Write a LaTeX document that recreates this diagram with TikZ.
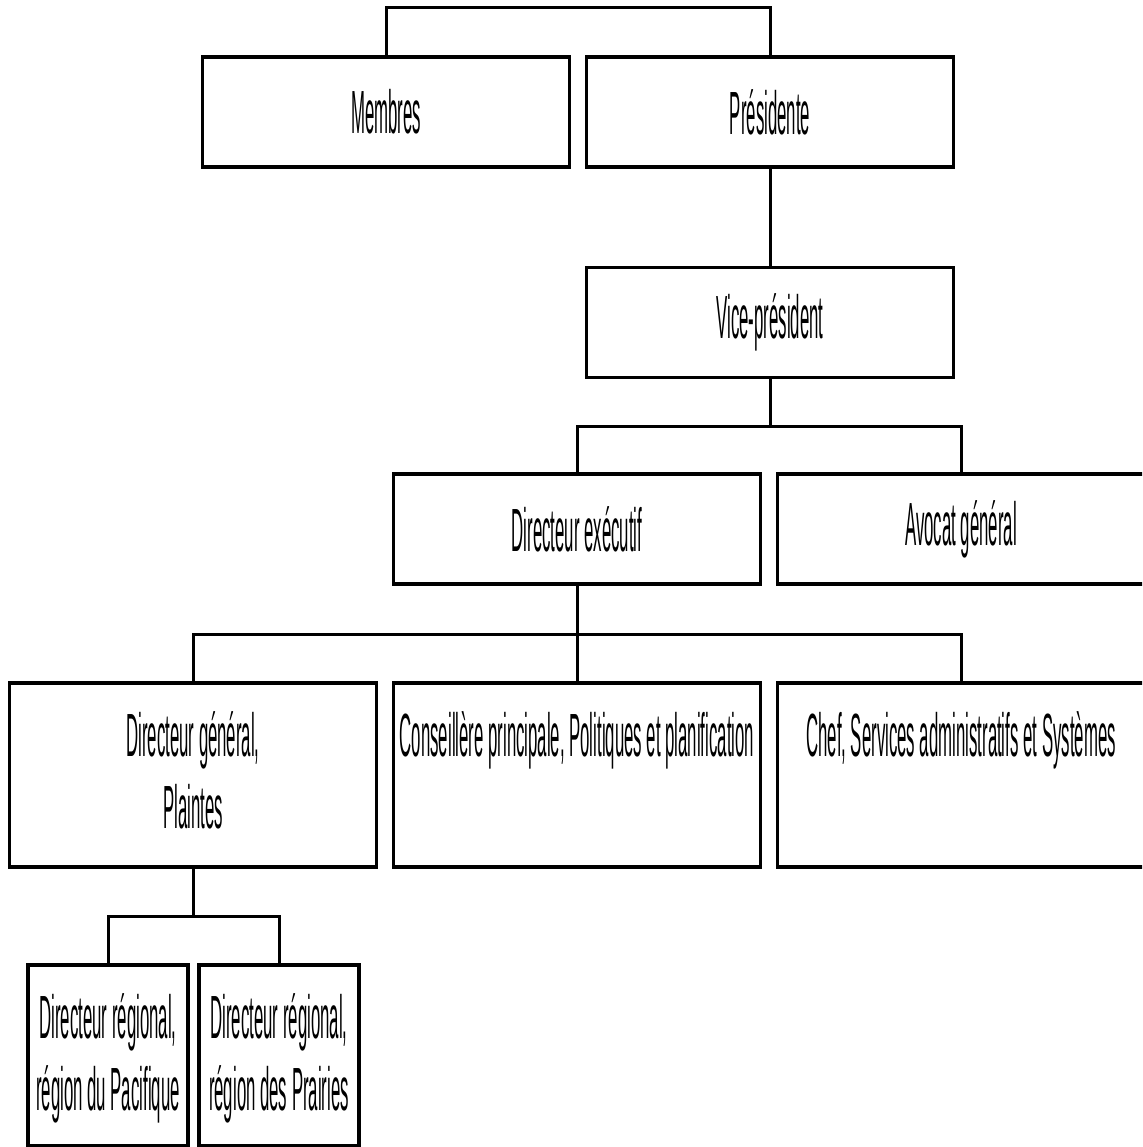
\documentclass[tikz,border=0pt]{standalone}
\usepackage{fontspec}
\newfontfamily\orgfont[FakeStretch=0.275]{Liberation Sans}
\usetikzlibrary{positioning}

\tikzset{
  unit/.style={draw, line width=1.7pt, minimum width=183.5pt, minimum height=55pt,
    inner sep=0pt, align=center, font=\orgfont\fontsize{30.5}{34}\selectfont},
  tallunit/.style={unit, minimum height=92pt},
  smallunit/.style={unit, minimum width=80pt, minimum height=90.5pt},
  caption/.style={inner sep=0pt, align=center, font=\orgfont\fontsize{30.5}{34}\selectfont},
  link/.style={line width=1.5pt}
}

\begin{document}
\begin{tikzpicture}[x=0.5pt, y=-0.5pt]

    \useasboundingbox (0,0) rectangle (1142,1147);
    \clip (0,0) rectangle (1142,1147);

    % boards
    \node[unit] (mem) at (386,112) {Membres};
    \node[unit] (pres) at (770,112) {Présidente};
    \node[unit] (vp) at (770,322.5) {Vice-président};

    \node[unit] (dex) at (577,529) {Directeur exécutif};
    \node[unit] (avo) at (961,529) {Avocat général};

    \node[tallunit] (dg) at (193,775) {};
    \node[tallunit] (cons) at (577,775) {};
    \node[tallunit] (chef) at (961,775) {};

    \node[smallunit] (pac) at (108,1055.5) {};
    \node[smallunit] (pra) at (279,1055.5) {};

    % texts at the top of the tall boxes
    \node[caption, below=15pt of dg.north] (dgtxt) {Directeur général,\\[2pt] Plaintes};
    \node[caption, below=15pt of cons.north] (constxt) {Conseillère principale, Politiques et planification};
    \node[caption, below=15pt of chef.north] (cheftxt) {Chef, Services administratifs et Systèmes};
    \node[caption, below=15pt of pac.north] (pactxt) {Directeur régional,\\[2pt] région du Pacifique};
    \node[caption, below=15pt of pra.north] (pratxt) {Directeur régional,\\[2pt] région des Prairies};

    % connectors
    \coordinate (j0) at (578,7);
    \coordinate (j1) at (770,426);
    \coordinate (j2) at (577,634);
    \coordinate (j3) at (193,916);

    \draw[link] (mem.north) |- (j0) -| (pres.north);
    \draw[link] (pres.south) -- (vp.north);
    \draw[link] (vp.south) -- (j1);
    \draw[link] (dex.north) |- (j1) -| (avo.north);
    \draw[link] (dex.south) -- (cons.north);
    \draw[link] (dg.north) |- (j2) -| (chef.north);
    \draw[link] (dg.south) -- (j3);
    \draw[link] (pac.north) |- (j3) -| (pra.north);

\end{tikzpicture}
\end{document}
